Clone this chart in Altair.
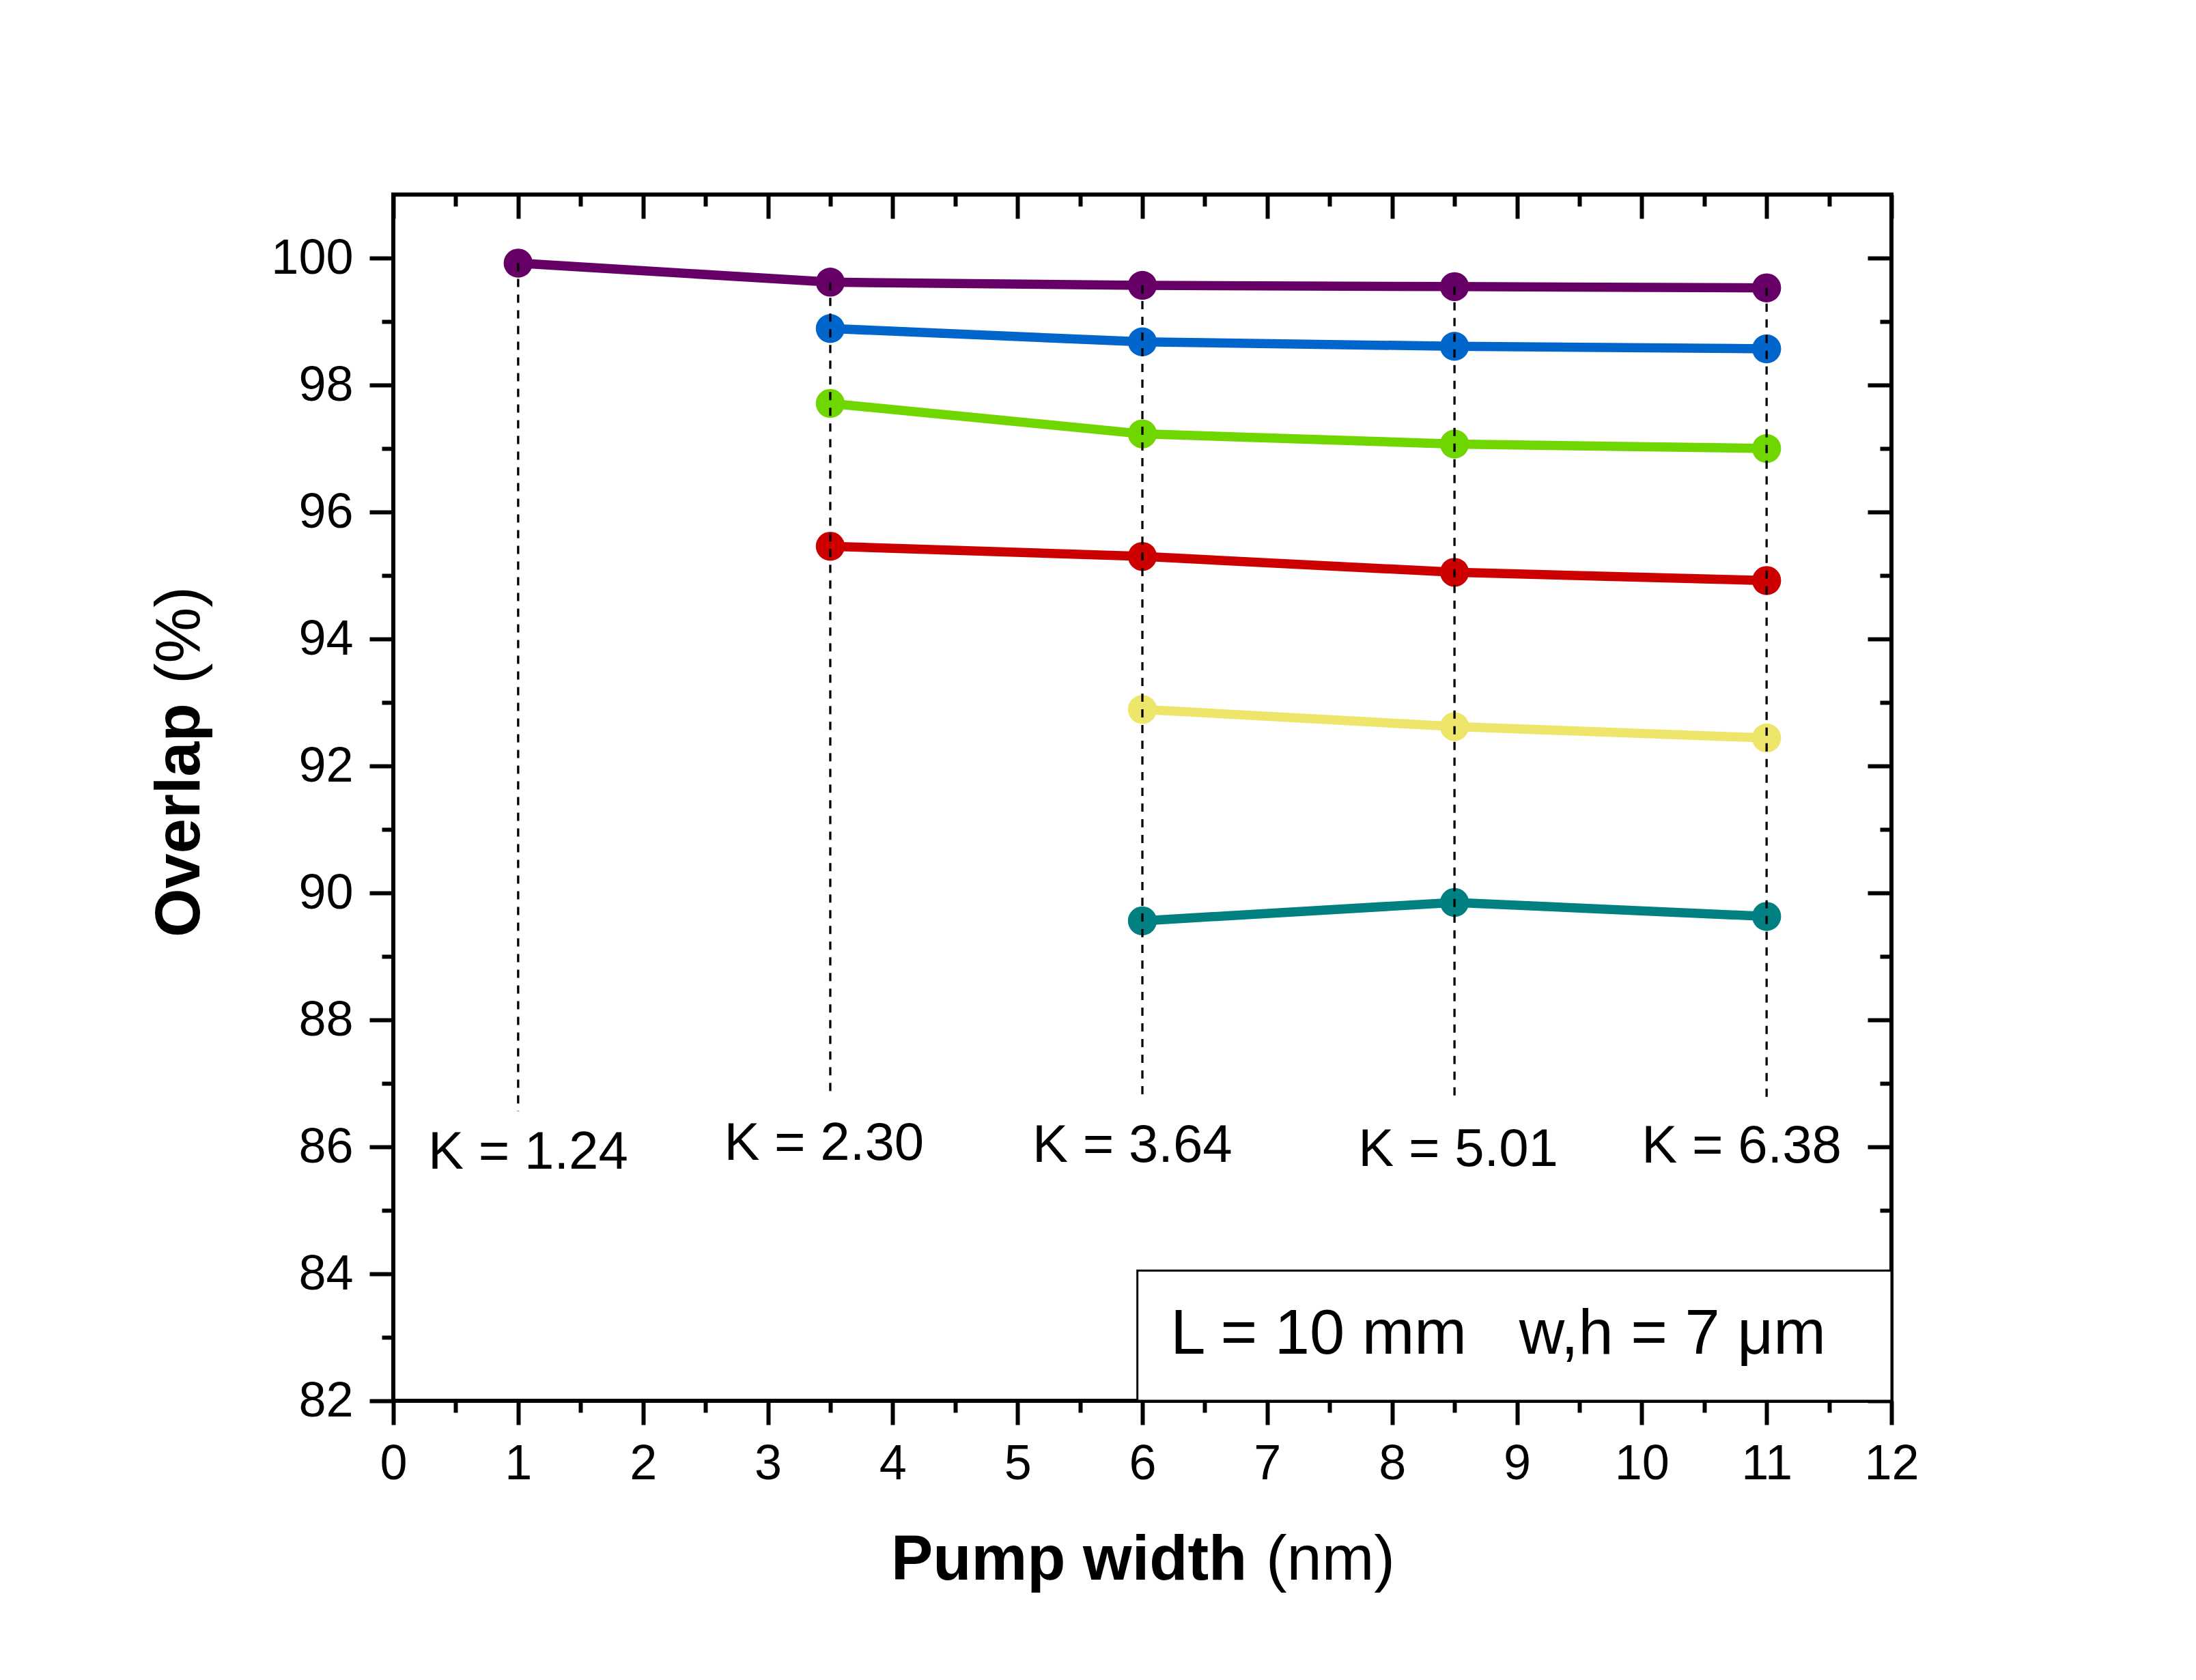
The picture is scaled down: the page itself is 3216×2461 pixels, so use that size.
import altair as alt
import pandas as pd

FONT = "Liberation Sans"

# ---------------- data ----------------
series_names = ["S1", "S2", "S3", "S4", "S5", "S6"]
series_colors = ["#660066", "#0066CC", "#70D600", "#CC0000", "#EEE66B", "#008080"]

x_purple = [1, 3.5, 6, 8.5, 11]
y_purple = [99.92, 99.62, 99.57, 99.55, 99.53]
x_blue = [3.5, 6, 8.5, 11]
y_blue = [98.89, 98.68, 98.61, 98.57]
x_green = [3.5, 6, 8.5, 11]
y_green = [97.71, 97.23, 97.07, 97.00]
x_red = [3.5, 6, 8.5, 11]
y_red = [95.46, 95.30, 95.05, 94.92]
x_yellow = [6, 8.5, 11]
y_yellow = [92.89, 92.62, 92.44]
x_teal = [6, 8.5, 11]
y_teal = [89.56, 89.85, 89.63]

# dashed guide lines (from the top point down to the K label)
guide_x = [1, 3.5, 6, 8.5, 11]
guide_top = [99.92, 99.62, 99.57, 99.55, 99.53]
guide_bottom = [86.56, 86.87, 86.74, 86.74, 86.75]

# K labels
k_text = ["K = 1.24", "K = 2.30", "K = 3.64", "K = 5.01", "K = 6.38"]
k_x = [1.08, 3.45, 5.92, 8.53, 10.80]
k_y = [85.66, 85.80, 85.76, 85.70, 85.75]

# annotation box
box_x = [5.96]
box_x2 = [12.0]
box_y = [82.0]
box_y2 = [84.05]
box_label = ["L = 10 mm\u00a0\u00a0\u00a0w,h = 7 \u03bcm"]
box_label_x = [8.85]
box_label_y = [82.74]

# axis ticks
x_major = list(range(0, 13))
x_minor = [i + 0.5 for i in range(0, 12)]
y_major = list(range(82, 101, 2))
y_minor = list(range(83, 100, 2))

# ---------------- frames ----------------
xs = [x_purple, x_blue, x_green, x_red, x_yellow, x_teal]
ys = [y_purple, y_blue, y_green, y_red, y_yellow, y_teal]
rows = []
for name, xx, yy in zip(series_names, xs, ys):
    for a, b in zip(xx, yy):
        rows.append({"series": name, "x": a, "y": b})
df = pd.DataFrame(rows)

guide_df = pd.DataFrame({"x": guide_x, "top": guide_top, "bottom": guide_bottom})
k_df = pd.DataFrame({"label": k_text, "x": k_x, "y": k_y})
box_df = pd.DataFrame({"x": box_x, "x2": box_x2, "y": box_y, "y2": box_y2})
box_text_df = pd.DataFrame({"label": box_label, "x": box_label_x, "y": box_label_y})

W, H = 2194, 1767

xscale = alt.Scale(domain=[0, 12], nice=False, zero=False)
yscale = alt.Scale(domain=[82, 101], nice=False, zero=False)

common = dict(domain=False, grid=False, title=None, tickColor="black", tickWidth=6)

ax_bottom = alt.Axis(orient="bottom", values=x_major, tickSize=35, labelFontSize=72,
                     labelFont=FONT, labelColor="black", labelPadding=22, labelFlush=False,
                     labelOverlap=False, format="d", **common)
ax_bottom_minor = alt.Axis(orient="bottom", values=x_minor, tickSize=17, labels=False, **common)
ax_top = alt.Axis(orient="bottom", offset=-H, values=x_major, tickSize=35, labels=False, **common)
ax_top_minor = alt.Axis(orient="bottom", offset=-H, values=x_minor, tickSize=17, labels=False, **common)

ax_left = alt.Axis(orient="left", values=y_major, tickSize=35, labelFontSize=72,
                   labelFont=FONT, labelColor="black", labelPadding=24, labelOverlap=False,
                   format="d", **common)
ax_left_minor = alt.Axis(orient="left", values=y_minor, tickSize=17, labels=False, **common)
ax_right = alt.Axis(orient="left", offset=-W, values=y_major, tickSize=35, labels=False, **common)
ax_right_minor = alt.Axis(orient="left", offset=-W, values=y_minor, tickSize=17, labels=False, **common)

color = alt.Color("series:N", scale=alt.Scale(domain=series_names, range=series_colors), legend=None)

lines = alt.Chart(df).mark_line(strokeWidth=13.5).encode(
    x=alt.X("x:Q", scale=xscale, axis=ax_bottom),
    y=alt.Y("y:Q", scale=yscale, axis=ax_left),
    color=color,
)

points = alt.Chart(df).mark_circle(size=1800, opacity=1).encode(
    x=alt.X("x:Q", scale=xscale, axis=ax_bottom_minor),
    y=alt.Y("y:Q", scale=yscale, axis=ax_left_minor),
    color=color,
)

guides = alt.Chart(guide_df).mark_rule(strokeDash=[12, 11], strokeWidth=3.3, color="black").encode(
    x=alt.X("x:Q", scale=xscale, axis=ax_top),
    y=alt.Y("top:Q", scale=yscale, axis=ax_right),
    y2="bottom:Q",
)

klabels = alt.Chart(k_df).mark_text(fontSize=78, font=FONT, align="center",
                                    baseline="alphabetic", color="black").encode(
    x=alt.X("x:Q", scale=xscale, axis=ax_top_minor),
    y=alt.Y("y:Q", scale=yscale, axis=ax_right_minor),
    text="label:N",
)

box = alt.Chart(box_df).mark_rect(fill="white", stroke="black", strokeWidth=3).encode(
    x=alt.X("x:Q", scale=xscale, axis=None),
    x2="x2:Q",
    y=alt.Y("y:Q", scale=yscale, axis=None),
    y2="y2:Q",
)

box_text = alt.Chart(box_text_df).mark_text(fontSize=92, font=FONT, align="center",
                                            baseline="alphabetic", color="black").encode(
    x=alt.X("x:Q", scale=xscale, axis=None),
    y=alt.Y("y:Q", scale=yscale, axis=None),
    text="label:N",
)

one = alt.Data(values=[{}])
t_over = alt.Chart(one).mark_text(text="Overlap", x=-284, y=1088, angle=270, align="left",
                                  baseline="alphabetic", fontSize=92, fontWeight="bold",
                                  font=FONT, color="black")
t_pct = alt.Chart(one).mark_text(text="(%)", x=-284, y=574, angle=270, align="right",
                                 baseline="alphabetic", fontSize=92, font=FONT, color="black")
t_pump = alt.Chart(one).mark_text(text="Pump width", x=729, y=2029, align="left",
                                  baseline="alphabetic", fontSize=92, fontWeight="bold",
                                  font=FONT, color="black")
t_nm = alt.Chart(one).mark_text(text="(nm)", x=1467, y=2029, align="right",
                                baseline="alphabetic", fontSize=92, font=FONT, color="black")

chart = alt.layer(
    box, lines, points, guides, klabels, box_text, t_over, t_pct, t_pump, t_nm
).resolve_axis(x="independent", y="independent").properties(
    width=W, height=H,
    autosize=alt.AutoSizeParams(type="none"),
    padding={"left": 568, "top": 277, "right": 438, "bottom": 401},
    background="white",
).configure_view(stroke="black", strokeWidth=6)

chart.save("out.html", embed_options={"renderer": "svg", "actions": False})
